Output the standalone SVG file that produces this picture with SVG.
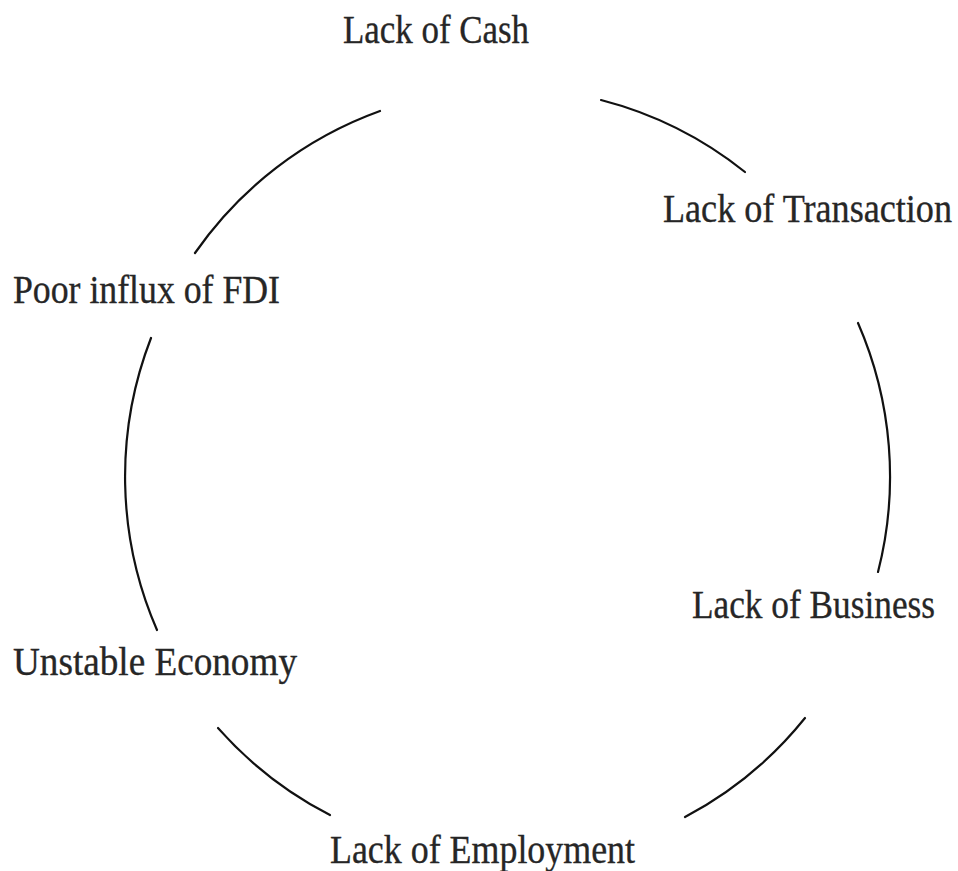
<svg xmlns="http://www.w3.org/2000/svg" width="958" height="871" viewBox="0 0 958 871">
  <style>
    .label { font-family: "Liberation Serif", "DejaVu Serif", serif; font-size: 41px; fill: #262626; stroke: #262626; stroke-width: 0.35; }
    .arc { fill: none; stroke: #111; stroke-width: 2.2; stroke-linecap: round; }
  </style>
  <rect width="958" height="871" fill="#ffffff"/>

  <!-- connectors: arcs of one circle between the labels, clockwise -->
  <g id="connectors">
    <path class="arc" d="M195,253 A384,384 0 0 1 380,111"/>
    <path class="arc" d="M601,100 A384,384 0 0 1 745,172"/>
    <path class="arc" d="M858,323 A384,384 0 0 1 878,572"/>
    <path class="arc" d="M805,718 A384,384 0 0 1 685,817"/>
    <path class="arc" d="M330,815 A384,384 0 0 1 218,728"/>
    <path class="arc" d="M157,630 A384,384 0 0 1 151,338"/>
  </g>

  <!-- labels: a condensed serif, narrowed horizontally -->
  <g id="cash" transform="translate(343,43) scale(0.851,1)">
    <text class="label" x="0" y="0" textLength="218.6" lengthAdjust="spacingAndGlyphs">Lack of Cash</text>
  </g>
  <g id="transaction" transform="translate(663,222) scale(0.875,1)">
    <text class="label" x="0" y="0" textLength="330.3" lengthAdjust="spacingAndGlyphs">Lack of Transaction</text>
  </g>
  <g id="business" transform="translate(692,618) scale(0.860,1)">
    <text class="label" x="0" y="0" textLength="282.6" lengthAdjust="spacingAndGlyphs">Lack of Business</text>
  </g>
  <g id="employment" transform="translate(330,863) scale(0.875,1)">
    <text class="label" x="0" y="0" textLength="348.6" lengthAdjust="spacingAndGlyphs">Lack of Employment</text>
  </g>
  <g id="economy" transform="translate(13,675) scale(0.907,1)">
    <text class="label" x="0" y="0" textLength="313.1" lengthAdjust="spacingAndGlyphs">Unstable Economy</text>
  </g>
  <g id="fdi" transform="translate(13,303) scale(0.871,1)">
    <text class="label" x="0" y="0" textLength="306.5" lengthAdjust="spacingAndGlyphs">Poor influx of FDI</text>
  </g>
</svg>
